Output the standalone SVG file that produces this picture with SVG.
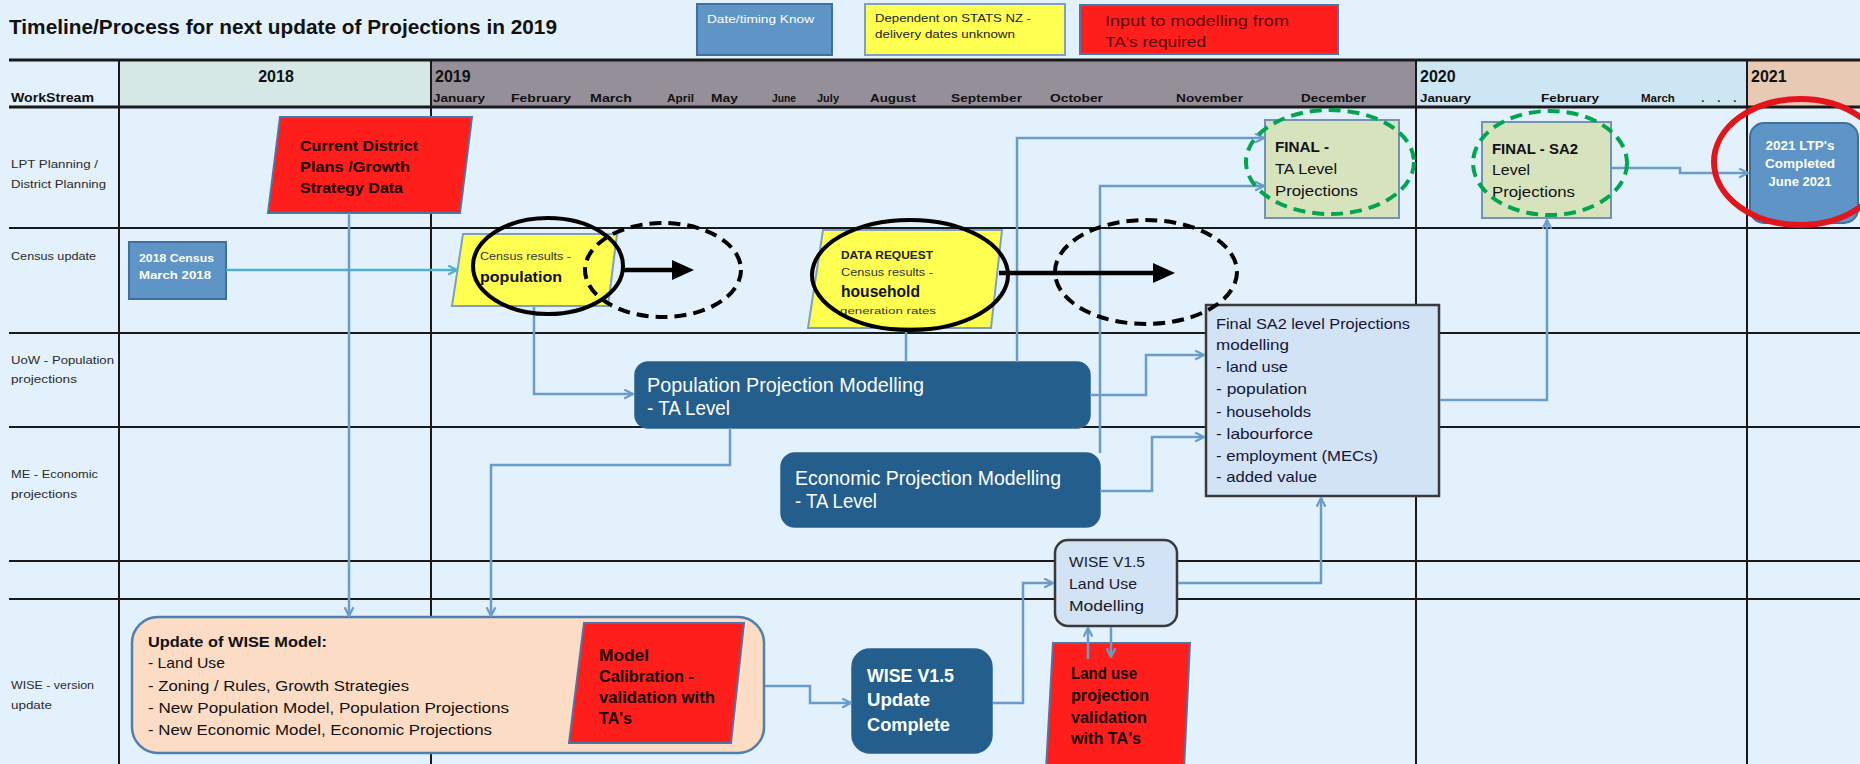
<svg xmlns="http://www.w3.org/2000/svg" width="1860" height="764" viewBox="0 0 1860 764">
<style>
text{font-family:"Liberation Sans",Arial,sans-serif;}
.b{font-weight:bold;}
.lbl{font-size:10.5px;fill:#2a2a2a;}
.mon{font-size:11.5px;font-weight:bold;fill:#111;}
.yr{font-size:16px;font-weight:bold;fill:#111;}
.grid{stroke:#1a1a1a;stroke-width:2;fill:none;}
.thick{stroke:#1a1a1a;stroke-width:3;fill:none;}
.con{fill:none;stroke:#6a9cca;stroke-width:2.5;}
.red{fill:#fe1e1c;stroke:#4a77a6;stroke-width:2;}
.yel{fill:#ffff52;stroke:#7f9fc0;stroke-width:2;}
.steel{fill:#5e94c6;stroke:#3e6f9e;stroke-width:2;}
.dark{fill:#245e8d;stroke:#2a5f8c;stroke-width:1.5;}
.green{fill:#d7e3bd;stroke:#7392b5;stroke-width:2;}
.light{fill:#d1e3f4;stroke:#3a3a3a;stroke-width:2.5;}
.wt{fill:#ffffff;}
.rt{fill:#1a0505;font-weight:bold;}
.ann{fill:none;stroke:#000;stroke-width:4;}
.dash{stroke-dasharray:12 7;}
.gdash{fill:none;stroke:#00a550;stroke-width:4;stroke-dasharray:12 7;}
</style>
<defs>
<marker id="ah" viewBox="0 0 10 10" refX="9" refY="5" markerWidth="11" markerHeight="11" markerUnits="userSpaceOnUse" orient="auto">
<path d="M1,1 L9,5 L1,9" fill="none" stroke="#6a9cca" stroke-width="2"/>
</marker>
<marker id="aht" viewBox="0 0 10 10" refX="9" refY="5" markerWidth="11" markerHeight="11" markerUnits="userSpaceOnUse" orient="auto">
<path d="M1,1 L9,5 L1,9" fill="none" stroke="#4fb2c8" stroke-width="2"/>
</marker>
<marker id="bh" viewBox="0 0 22 20" refX="12" refY="10" markerWidth="22" markerHeight="20" markerUnits="userSpaceOnUse" orient="auto">
<path d="M0,0 L22,10 L0,20 z" fill="#000"/>
</marker>
</defs>

<rect x="0" y="0" width="1860" height="764" fill="#e3f1fc"/>

<g id="title">
<text x="9" y="34" class="b" font-size="20.5" fill="#111" textLength="548" lengthAdjust="spacingAndGlyphs">Timeline/Process for next update of Projections in 2019</text>
</g>

<g id="legend">
<rect x="697" y="4" width="135" height="51" class="steel"/>
<text x="707" y="23" font-size="11.5" class="wt" textLength="107" lengthAdjust="spacingAndGlyphs">Date/timing Know</text>
<rect x="865" y="4" width="200" height="51" class="yel" stroke="#6d8fb5"/>
<text x="875" y="22" font-size="11.5" fill="#222" textLength="156" lengthAdjust="spacingAndGlyphs">Dependent on STATS NZ  -</text>
<text x="875" y="38" font-size="11.5" fill="#222" textLength="140" lengthAdjust="spacingAndGlyphs">delivery dates unknown</text>
<rect x="1080" y="5" width="258" height="49" class="red"/>
<text x="1105" y="26" font-size="15" fill="#5a0a0a" textLength="184" lengthAdjust="spacingAndGlyphs">Input  to modelling from</text>
<text x="1105" y="47" font-size="15" fill="#5a0a0a" textLength="101" lengthAdjust="spacingAndGlyphs">TA's required</text>
</g>

<g id="header">
<rect x="119" y="60" width="312" height="47" fill="#d5e8e6"/>
<rect x="431" y="60" width="985" height="47" fill="#958f9a"/>
<rect x="1416" y="60" width="331" height="47" fill="#cde6f3"/>
<rect x="1747" y="60" width="113" height="47" fill="#e7c9b4"/>
<text x="11" y="102" class="b" font-size="12" fill="#111" textLength="83" lengthAdjust="spacingAndGlyphs">WorkStream</text>
<text x="276" y="82" class="yr" text-anchor="middle">2018</text>
<text x="435" y="82" class="yr">2019</text>
<text x="1420" y="82" class="yr">2020</text>
<text x="1751" y="82" class="yr">2021</text>
<text x="433" y="102" class="mon" textLength="52" lengthAdjust="spacingAndGlyphs">January</text>
<text x="511" y="102" class="mon" textLength="60" lengthAdjust="spacingAndGlyphs">February</text>
<text x="590" y="102" class="mon" textLength="42" lengthAdjust="spacingAndGlyphs">March</text>
<text x="667" y="102" class="mon" textLength="27" lengthAdjust="spacingAndGlyphs">April</text>
<text x="711" y="102" class="mon" textLength="27" lengthAdjust="spacingAndGlyphs">May</text>
<text x="772" y="102" class="mon" textLength="24" lengthAdjust="spacingAndGlyphs">June</text>
<text x="817" y="102" class="mon" textLength="22" lengthAdjust="spacingAndGlyphs">July</text>
<text x="870" y="102" class="mon" textLength="46" lengthAdjust="spacingAndGlyphs">August</text>
<text x="951" y="102" class="mon" textLength="71" lengthAdjust="spacingAndGlyphs">September</text>
<text x="1050" y="102" class="mon" textLength="53" lengthAdjust="spacingAndGlyphs">October</text>
<text x="1176" y="102" class="mon" textLength="67" lengthAdjust="spacingAndGlyphs">November</text>
<text x="1301" y="102" class="mon" textLength="65" lengthAdjust="spacingAndGlyphs">December</text>
<text x="1420" y="102" class="mon" textLength="51" lengthAdjust="spacingAndGlyphs">January</text>
<text x="1541" y="102" class="mon" textLength="58" lengthAdjust="spacingAndGlyphs">February</text>
<text y="102" class="mon"><tspan x="1641">March</tspan><tspan x="1698"> .</tspan><tspan x="1714"> .</tspan><tspan x="1730"> .</tspan></text>
</g>

<g id="grid">
<line x1="9" y1="60" x2="1860" y2="60" class="thick"/>
<line x1="9" y1="107" x2="1860" y2="107" class="thick"/>
<line x1="9" y1="228" x2="1860" y2="228" class="grid"/>
<line x1="9" y1="333" x2="1860" y2="333" class="grid"/>
<line x1="9" y1="427" x2="1860" y2="427" class="grid"/>
<line x1="9" y1="561" x2="1860" y2="561" class="grid"/>
<line x1="9" y1="599" x2="1860" y2="599" class="grid"/>
<line x1="119" y1="60" x2="119" y2="764" class="grid"/>
<line x1="431" y1="60" x2="431" y2="764" class="grid"/>
<line x1="1416" y1="60" x2="1416" y2="764" class="grid"/>
<line x1="1747" y1="60" x2="1747" y2="764" class="grid"/>
</g>

<g id="row-labels">
<text x="11" y="168" class="lbl" textLength="87" lengthAdjust="spacingAndGlyphs">LPT Planning /</text>
<text x="11" y="188" class="lbl" textLength="95" lengthAdjust="spacingAndGlyphs">District Planning</text>
<text x="11" y="260" class="lbl" textLength="85" lengthAdjust="spacingAndGlyphs">Census update</text>
<text x="11" y="364" class="lbl" textLength="103" lengthAdjust="spacingAndGlyphs">UoW - Population</text>
<text x="11" y="383" class="lbl" textLength="66" lengthAdjust="spacingAndGlyphs">projections</text>
<text x="11" y="478" class="lbl" textLength="87" lengthAdjust="spacingAndGlyphs">ME - Economic</text>
<text x="11" y="498" class="lbl" textLength="66" lengthAdjust="spacingAndGlyphs">projections</text>
<text x="11" y="689" class="lbl" textLength="83" lengthAdjust="spacingAndGlyphs">WISE - version</text>
<text x="11" y="709" class="lbl" textLength="41" lengthAdjust="spacingAndGlyphs">update</text>
</g>

<g id="node-current-district">
<polygon points="280,117 472,117 460,213 268,213" class="red"/>
<text x="300" y="151" font-size="15" class="rt" textLength="118" lengthAdjust="spacingAndGlyphs">Current District</text>
<text x="300" y="172" font-size="15" class="rt" textLength="110" lengthAdjust="spacingAndGlyphs">Plans /Growth</text>
<text x="300" y="193" font-size="15" class="rt" textLength="103" lengthAdjust="spacingAndGlyphs">Strategy Data</text>
</g>

<g id="node-census-2018">
<rect x="129" y="242" width="97" height="57" class="steel"/>
<text x="139" y="262" font-size="11.5" class="b wt" textLength="75" lengthAdjust="spacingAndGlyphs">2018 Census</text>
<text x="139" y="279" font-size="11.5" class="b wt" textLength="72" lengthAdjust="spacingAndGlyphs">March 2018</text>
</g>

<g id="node-census-population">
<polygon points="463,234 617,234 608,306 452,306" class="yel"/>
<text x="480" y="260" font-size="10.5" fill="#333" textLength="91" lengthAdjust="spacingAndGlyphs">Census results -</text>
<text x="480" y="282" font-size="14" class="b" fill="#111" textLength="82" lengthAdjust="spacingAndGlyphs">population</text>
</g>

<g id="node-data-request">
<polygon points="823,230 1002,230 991,328 808,328" class="yel"/>
<text x="841" y="259" font-size="11.5" class="b" fill="#222" textLength="92" lengthAdjust="spacingAndGlyphs">DATA REQUEST</text>
<text x="841" y="276" font-size="11.5" fill="#333" textLength="92" lengthAdjust="spacingAndGlyphs">Census results -</text>
<text x="841" y="297" font-size="16" class="b" fill="#111" textLength="79" lengthAdjust="spacingAndGlyphs">household</text>
<text x="840" y="314" font-size="9.5" fill="#333" textLength="96" lengthAdjust="spacingAndGlyphs">generation rates</text>
</g>

<g id="node-population-modelling">
<rect x="635" y="362" width="455" height="66" rx="13" class="dark"/>
<text x="647" y="392" font-size="20" class="wt" textLength="277" lengthAdjust="spacingAndGlyphs">Population Projection Modelling</text>
<text x="647" y="415" font-size="20" class="wt" textLength="83" lengthAdjust="spacingAndGlyphs">- TA Level</text>
</g>

<g id="node-economic-modelling">
<rect x="781" y="453" width="319" height="74" rx="14" class="dark"/>
<text x="795" y="485" font-size="20" class="wt" textLength="266" lengthAdjust="spacingAndGlyphs">Economic Projection Modelling</text>
<text x="795" y="508" font-size="20" class="wt" textLength="82" lengthAdjust="spacingAndGlyphs">- TA Level</text>
</g>

<g id="node-final-sa2-modelling">
<rect x="1206" y="305" width="233" height="191" class="light"/>
<g font-size="14.5" fill="#15153a">
<text x="1216" y="329" textLength="194" lengthAdjust="spacingAndGlyphs">Final SA2 level Projections</text>
<text x="1216" y="350" textLength="73" lengthAdjust="spacingAndGlyphs">modelling</text>
<text x="1216" y="372" textLength="72" lengthAdjust="spacingAndGlyphs">- land use</text>
<text x="1216" y="394" textLength="91" lengthAdjust="spacingAndGlyphs">- population</text>
<text x="1216" y="417" textLength="95" lengthAdjust="spacingAndGlyphs">- households</text>
<text x="1216" y="439" textLength="97" lengthAdjust="spacingAndGlyphs">- labourforce</text>
<text x="1216" y="461" textLength="162" lengthAdjust="spacingAndGlyphs">- employment (MECs)</text>
<text x="1216" y="482" textLength="101" lengthAdjust="spacingAndGlyphs">- added value</text>
</g>
</g>

<g id="node-final-ta">
<rect x="1265" y="120" width="134" height="98" class="green"/>
<text x="1275" y="152" font-size="15" class="b" fill="#111" textLength="54" lengthAdjust="spacingAndGlyphs">FINAL -</text>
<text x="1275" y="174" font-size="15" fill="#111" textLength="62" lengthAdjust="spacingAndGlyphs">TA Level</text>
<text x="1275" y="196" font-size="15" fill="#111" textLength="83" lengthAdjust="spacingAndGlyphs">Projections</text>
</g>

<g id="node-final-sa2">
<rect x="1482" y="122" width="129" height="96" class="green"/>
<text x="1492" y="154" font-size="15" class="b" fill="#111" textLength="86" lengthAdjust="spacingAndGlyphs">FINAL - SA2</text>
<text x="1492" y="175" font-size="15" fill="#111" textLength="38" lengthAdjust="spacingAndGlyphs">Level</text>
<text x="1492" y="197" font-size="15" fill="#111" textLength="83" lengthAdjust="spacingAndGlyphs">Projections</text>
</g>

<g id="node-ltp-2021">
<rect x="1750" y="123" width="108" height="100" rx="14" class="steel"/>
<text x="1800" y="150" font-size="12.5" class="b wt" text-anchor="middle" textLength="69" lengthAdjust="spacingAndGlyphs">2021 LTP's</text>
<text x="1800" y="168" font-size="12.5" class="b wt" text-anchor="middle" textLength="70" lengthAdjust="spacingAndGlyphs">Completed</text>
<text x="1800" y="186" font-size="12.5" class="b wt" text-anchor="middle" textLength="63" lengthAdjust="spacingAndGlyphs">June 2021</text>
</g>

<g id="node-wise-update">
<rect x="132" y="617" width="632" height="136" rx="26" fill="#fddcc6" stroke="#4f7fae" stroke-width="2.5"/>
<g font-size="15" fill="#111">
<text x="148" y="647" class="b" textLength="179" lengthAdjust="spacingAndGlyphs">Update of WISE Model:</text>
<text x="148" y="668" textLength="77" lengthAdjust="spacingAndGlyphs">- Land Use</text>
<text x="148" y="691" textLength="261" lengthAdjust="spacingAndGlyphs">- Zoning / Rules, Growth Strategies</text>
<text x="148" y="713" textLength="361" lengthAdjust="spacingAndGlyphs">- New Population Model, Population Projections</text>
<text x="148" y="735" textLength="344" lengthAdjust="spacingAndGlyphs">- New Economic Model, Economic Projections</text>
</g>
</g>

<g id="node-model-calibration">
<polygon points="584,623 744,623 731,743 569,743" class="red"/>
<text x="599" y="661" font-size="16" class="rt" textLength="50" lengthAdjust="spacingAndGlyphs">Model</text>
<text x="599" y="682" font-size="16" class="rt" textLength="95" lengthAdjust="spacingAndGlyphs">Calibration -</text>
<text x="599" y="703" font-size="16" class="rt" textLength="116" lengthAdjust="spacingAndGlyphs">validation with</text>
<text x="599" y="724" font-size="16" class="rt" textLength="33" lengthAdjust="spacingAndGlyphs">TA's</text>
</g>

<g id="node-wise-complete">
<rect x="852" y="649" width="140" height="104" rx="18" class="dark"/>
<text x="867" y="682" font-size="18" class="b wt" textLength="87" lengthAdjust="spacingAndGlyphs">WISE V1.5</text>
<text x="867" y="706" font-size="18" class="b wt" textLength="63" lengthAdjust="spacingAndGlyphs">Update</text>
<text x="867" y="731" font-size="18" class="b wt" textLength="83" lengthAdjust="spacingAndGlyphs">Complete</text>
</g>

<g id="node-wise-landuse">
<rect x="1055" y="540" width="122" height="86" rx="13" class="light"/>
<text x="1069" y="567" font-size="15" fill="#1a1a2a" textLength="76" lengthAdjust="spacingAndGlyphs">WISE V1.5</text>
<text x="1069" y="589" font-size="15" fill="#1a1a2a" textLength="68" lengthAdjust="spacingAndGlyphs">Land Use</text>
<text x="1069" y="611" font-size="15" fill="#1a1a2a" textLength="75" lengthAdjust="spacingAndGlyphs">Modelling</text>
</g>

<g id="node-landuse-validation">
<polygon points="1053,643 1190,643 1184,770 1046,770" class="red"/>
<text x="1071" y="679" font-size="16" class="rt" textLength="66" lengthAdjust="spacingAndGlyphs">Land use</text>
<text x="1071" y="701" font-size="16" class="rt" textLength="78" lengthAdjust="spacingAndGlyphs">projection</text>
<text x="1071" y="723" font-size="16" class="rt" textLength="76" lengthAdjust="spacingAndGlyphs">validation</text>
<text x="1071" y="744" font-size="16" class="rt" textLength="70" lengthAdjust="spacingAndGlyphs">with TA's</text>
</g>

<g id="connectors">
<path d="M226,270 H457" fill="none" stroke="#4fb2c8" stroke-width="2.5" marker-end="url(#aht)"/>
<path d="M349,213 V616" class="con" marker-end="url(#ah)"/>
<path d="M534,307 V394 H633" class="con" marker-end="url(#ah)"/>
<path d="M906,329 V362" class="con"/>
<path d="M1017,362 V138 H1264" class="con" marker-end="url(#ah)"/>
<path d="M1100,453 V186 H1264" class="con" marker-end="url(#ah)"/>
<path d="M1090,395 H1146 V355 H1204" class="con" marker-end="url(#ah)"/>
<path d="M1100,491 H1152 V437 H1204" class="con" marker-end="url(#ah)"/>
<path d="M1440,400 H1547 V220" class="con" marker-end="url(#ah)"/>
<path d="M1612,168 H1680 V173 H1748" class="con" marker-end="url(#ah)"/>
<path d="M730,428 V465 H491 V616" class="con" marker-end="url(#ah)"/>
<path d="M765,686 H810 V703 H851" class="con" marker-end="url(#ah)"/>
<path d="M993,703 H1023 V583 H1053" class="con" marker-end="url(#ah)"/>
<path d="M1178,583 H1321 V498" class="con" marker-end="url(#ah)"/>
<path d="M1088,659 V628" class="con" marker-end="url(#ah)"/>
<path d="M1111,627 V657" class="con" marker-end="url(#ah)"/>
</g>

<g id="annotations">
<ellipse cx="548" cy="266" rx="75" ry="48" class="ann"/>
<ellipse cx="663" cy="270" rx="78" ry="47" class="ann dash"/>
<path d="M622,270 H684" fill="none" stroke="#000" stroke-width="4.5" marker-end="url(#bh)"/>
<ellipse cx="910" cy="275" rx="98" ry="55" class="ann"/>
<ellipse cx="1146" cy="272" rx="91" ry="52" class="ann dash"/>
<path d="M999,273 H1165" fill="none" stroke="#000" stroke-width="4.5" marker-end="url(#bh)"/>
<ellipse cx="1330" cy="162" rx="84" ry="52" class="gdash"/>
<ellipse cx="1550" cy="163" rx="77" ry="52" class="gdash"/>
<ellipse cx="1800" cy="162" rx="86" ry="63" fill="none" stroke="#e3141b" stroke-width="6"/>
</g>
</svg>
